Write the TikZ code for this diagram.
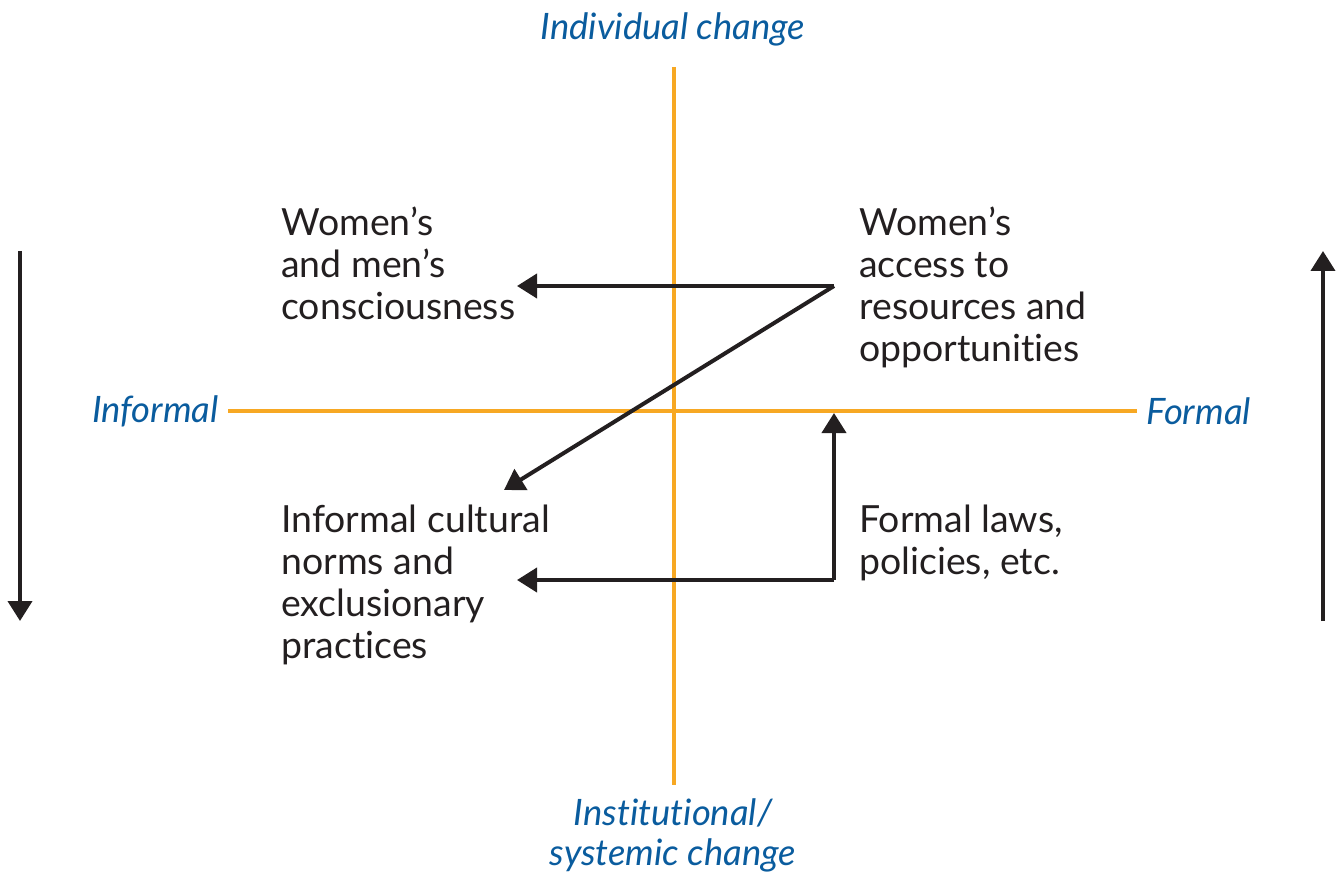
\documentclass[tikz,border=0pt]{standalone}
\usepackage{fontspec}
\setmainfont{Lato}[Ligatures=NoCommon]
\usetikzlibrary{arrows.meta}
\definecolor{axisorange}{HTML}{F7A823}
\definecolor{labelblue}{HTML}{0A5C9E}
\definecolor{ink}{HTML}{231F20}
\tikzset{
  axis/.style={axisorange, line width=1.6pt},
  flow/.style={ink, line width=2pt, -{Triangle[length=10pt,width=12pt]}},
  body/.style={font=\fontsize{18.7pt}{21pt}\selectfont, text=ink, align=left, inner sep=0pt, anchor=north west},
  axlabel/.style={font=\fontsize{18.2pt}{20pt}\selectfont\itshape, text=labelblue, inner sep=0pt, align=center}
}
\begin{document}
\begin{tikzpicture}[x=0.5pt,y=-0.5pt]
\useasboundingbox (0,0) rectangle (1341,872);
% axes
\coordinate (vtop) at (674,67);
\coordinate (vbot) at (674,785);
\coordinate (hl) at (228,411);
\coordinate (hr) at (1137,411);
\draw[axis] (vtop) -- (vbot);
\draw[axis] (hl) -- (hr);
% axis labels
\node[axlabel] (indiv) at (673,29) {Individual change};
\node[axlabel, anchor=east] (informal) at (219,411) {Informal};
\node[axlabel, anchor=west] (formal) at (1146,411) {Formal};
\node[axlabel] (inst) at (673,835) {Institutional/\\systemic change};
% quadrant texts
\node[body] (tl) at (281,207) {Women’s\\and men’s\\consciousness};
\node[body] (tr) at (859,207) {Women’s\\access to\\resources and\\opportunities};
\node[body] (bl) at (281,505) {Informal cultural\\norms and\\exclusionary\\practices};
\node[body] (br) at (859,505) {Formal laws,\\policies, etc.};
% connectors
\coordinate (c1) at (834,286);
\coordinate (e1) at (517,286);
\coordinate (e2) at (504,490);
\coordinate (c2) at (834,580);
\coordinate (e3) at (517,580);
\coordinate (e4) at (834,413);
\draw[flow] (c1) -- (e1);
\draw[flow] (c1) -- (e2);
\draw[flow] (c2) -- (e3);
\draw[flow] (c2) -- (e4);
% side arrows
\coordinate (ls) at (20,251);
\coordinate (le) at (20,621);
\coordinate (rs) at (1323,621);
\coordinate (re) at (1323,251);
\draw[flow] (ls) -- (le);
\draw[flow] (rs) -- (re);
\end{tikzpicture}
\end{document}
